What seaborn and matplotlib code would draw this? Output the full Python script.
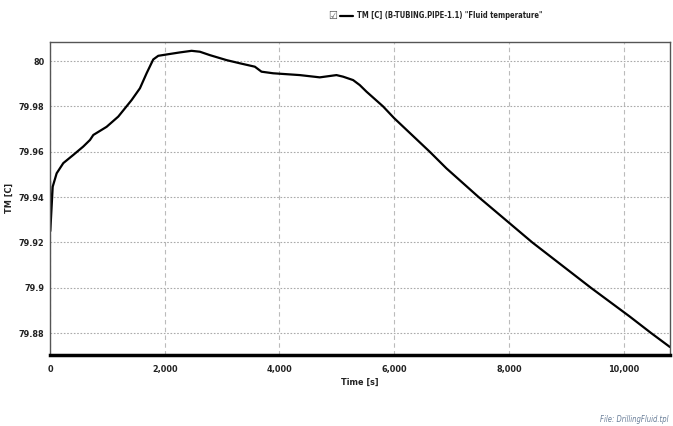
import matplotlib
matplotlib.use("Agg")
import matplotlib.pyplot as plt
import matplotlib.ticker as mticker
import seaborn as sns
import pandas as pd
from matplotlib import font_manager

time_s = [0, 5, 47, 116, 232, 406, 580, 697, 755, 987, 1190, 1423, 1568, 1684,
          1800, 1887, 2061, 2265, 2468, 2613, 2787, 3078, 3310, 3571, 3687, 3890,
          4355, 4703, 4994, 5110, 5284, 5400, 5517, 5806, 6000, 6620, 6910, 7473,
          8409, 9431, 10104, 10483, 10808]
temp_c = [79.947, 79.925, 79.9446, 79.9505, 79.955, 79.9586, 79.9623, 79.9652,
          79.9674, 79.971, 79.9755, 79.9828, 79.988, 79.9946, 80.0007, 80.0023,
          80.003, 80.0038, 80.0045, 80.0041, 80.0026, 80.0004, 79.999, 79.9975,
          79.9953, 79.9946, 79.9938, 79.9928, 79.9938, 79.9931, 79.9916, 79.9894,
          79.9865, 79.98, 79.9748, 79.96, 79.9527, 79.94, 79.92, 79.90, 79.8874,
          79.88, 79.8739]
x_ticks = [0, 2000, 4000, 6000, 8000, 10000]
y_ticks = [79.88, 79.9, 79.92, 79.94, 79.96, 79.98, 80.0]
legend_label = 'TM [C] (B-TUBING.PIPE-1.1) "Fluid temperature"'
x_label = "Time [s]"
y_label = "TM [C]"
footer = "File: DrillingFluid.tpl"

sns.set_theme(style="white")

# prefer a narrow / condensed face if one is installed
fam, stretch = "Liberation Sans", "normal"
for f in font_manager.fontManager.ttflist:
    st = str(f.stretch).lower()
    if "narrow" in f.name.lower() or "condensed" in f.name.lower():
        fam, stretch = f.name, "normal"
        break
    if "condensed" in st:
        fam, stretch = f.name, "condensed"
        break
plt.rcParams["font.family"] = [fam, "DejaVu Sans"]
plt.rcParams["font.stretch"] = stretch
narrow = fam != "Liberation Sans"
fs = 6.5 if narrow else 6.0

df = pd.DataFrame({"t": time_s, "v": temp_c})

fig = plt.figure(figsize=(6.73, 4.26), dpi=100)
ax = fig.add_axes([0.0743, 0.1667, 0.9212, 0.7353])
sns.lineplot(data=df, x="t", y="v", ax=ax, color="black", linewidth=1.6)

ax.set_xlim(0, 10808)
ax.set_ylim(79.8704, 80.0085)
ax.set_xticks(x_ticks)
ax.set_yticks(y_ticks)
ax.xaxis.set_major_formatter(mticker.FuncFormatter(lambda v, p: f"{int(v):,}"))
ax.yaxis.set_major_formatter(mticker.FuncFormatter(lambda v, p: f"{v:g}"))
ax.tick_params(axis="both", length=0, labelsize=fs, colors="#222222", pad=4)
ax.tick_params(axis="x", pad=7)
for lab in ax.get_xticklabels() + ax.get_yticklabels():
    lab.set_fontweight("bold")

ax.grid(True, axis="x", color="#bbbbbb", linestyle=(0, (4, 3)), linewidth=0.8)
ax.grid(True, axis="y", color="#aaaaaa", linestyle=(0, (1.5, 1.5)), linewidth=0.8)

for side in ["top", "right", "left"]:
    ax.spines[side].set_color("#555555")
    ax.spines[side].set_linewidth(1.0)
ax.spines["bottom"].set_color("black")
ax.spines["bottom"].set_linewidth(2.5)

ax.set_xlabel(x_label, fontsize=fs, fontweight="bold", labelpad=3, color="#222222")
ax.set_ylabel(y_label, fontsize=fs, fontweight="bold", color="#222222")
ax.yaxis.set_label_coords(-0.058, 0.5)

# legend header
fig.text(333 / 673, 1 - 16 / 426, "☑", fontsize=8, ha="center", va="center",
         color="#555555", family=["DejaVu Sans"])
fig.add_artist(plt.Line2D([340 / 673, 353 / 673], [1 - 16 / 426, 1 - 16 / 426],
                          color="black", linewidth=1.6))
fig.text(357 / 673, 1 - 16 / 426, legend_label, fontsize=fs - 1.0,
         fontweight="bold", ha="left", va="center", color="#222222")

fig.text(668 / 673, 1 - 420 / 426, footer, fontsize=5.5, style="italic",
         ha="right", va="center", color="#6a7f99")

fig.savefig("out.png", dpi=100)
